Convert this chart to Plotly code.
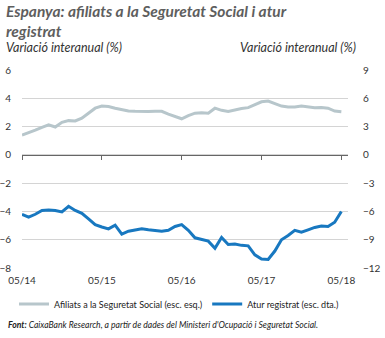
import plotly.graph_objects as go

months = list(range(49))
tick_vals = [0, 12, 24, 36, 48]
tick_text = ["05/14", "05/15", "05/16", "05/17", "05/18"]

afiliats = [1.4, 1.55, 1.75, 1.95, 2.12, 1.97, 2.3, 2.42, 2.4, 2.6,
            2.95, 3.3, 3.45, 3.42, 3.3, 3.2, 3.1, 3.08, 3.06, 3.07,
            3.08, 3.08, 2.88, 2.72, 2.55, 2.78, 2.95, 2.97, 2.95, 3.3,
            3.15, 3.07, 3.2, 3.28, 3.34, 3.55, 3.75, 3.8, 3.62, 3.45,
            3.38, 3.38, 3.45, 3.38, 3.33, 3.35, 3.3, 3.1, 3.05]

atur = [-6.3, -6.6, -6.3, -5.9, -5.86, -5.9, -6.05, -5.45, -5.9, -6.2,
        -6.8, -7.4, -7.65, -7.85, -7.45, -8.4, -8.1, -7.95, -7.85, -7.95,
        -8.0, -8.1, -8.0, -7.6, -7.4, -8.0, -8.8, -9.0, -9.15, -9.9,
        -8.75, -9.5, -9.45, -9.6, -9.65, -10.6, -11.05, -11.1, -10.2, -9.0,
        -8.55, -8.0, -8.2, -7.95, -7.7, -7.55, -7.6, -7.15, -6.0]

left_ticks = [-8, -6, -4, -2, 0, 2, 4, 6]
right_ticks = [-12, -9, -6, -3, 0, 3, 6, 9]

GRAY = "#b7c6cb"
BLUE = "#1878c0"
FONT = "Lato"

L, R, T, B = 22, 37, 70, 70
W, H = 385, 338
PW = W - L - R
PH = H - T - B


def px(x):
    return (x - L) / PW


def py(y):
    return (H - B - y) / PH


fig = go.Figure()
fig.add_trace(go.Scatter(x=months, y=afiliats, mode="lines",
                         line=dict(color=GRAY, width=3),
                         name="Afiliats a la Seguretat Social (esc. esq.)",
                         yaxis="y"))
fig.add_trace(go.Scatter(x=months, y=atur, mode="lines",
                         line=dict(color=BLUE, width=3),
                         name="Atur registrat (esc. dta.)",
                         yaxis="y2"))
fig.add_trace(go.Scatter(x=[0, 48], y=[None, None], xaxis="x2", yaxis="y",
                         showlegend=False, hoverinfo="skip"))

fig.update_layout(
    width=W, height=H,
    margin=dict(l=L, r=R, t=T, b=B, autoexpand=False),
    paper_bgcolor="white", plot_bgcolor="white",
    font=dict(family=FONT, size=10, color="#333333"),
    showlegend=True,
    legend=dict(orientation="h", x=px(14), xanchor="left", y=py(304), yanchor="middle",
                font=dict(size=9, color="#222222"),
                bgcolor="rgba(0,0,0,0)"),
    xaxis=dict(range=[0, 49], tickvals=tick_vals, ticktext=tick_text,
               showgrid=False, zeroline=False, showline=False, automargin=False,
               ticks="outside", ticklen=3, tickcolor="rgba(0,0,0,0)",
               tickfont=dict(size=10, color="#333333")),
    xaxis2=dict(range=[0, 49], tickvals=tick_vals, overlaying="x",
                anchor="free", position=8/14, side="bottom", automargin=False,
                showgrid=False, zeroline=False, showline=True,
                linecolor="#666666", linewidth=1,
                ticks="outside", ticklen=4, tickcolor="#666666",
                showticklabels=False),
    yaxis=dict(range=[-8, 6], tickvals=left_ticks, showgrid=True,
               gridcolor="#d4d4d4", gridwidth=1, zeroline=False, automargin=False,
               showline=False, ticks="outside", ticklen=8,
               tickcolor="rgba(0,0,0,0)",
               tickfont=dict(size=10, color="#333333")),
    yaxis2=dict(range=[-12, 9], tickvals=right_ticks, overlaying="y",
                side="right", showgrid=False, zeroline=False, automargin=False,
                showline=False, ticks="outside", ticklen=12,
                tickcolor="rgba(0,0,0,0)",
                tickfont=dict(size=10, color="#333333")),
)

fig.add_annotation(text="<b><i>Espanya: afiliats a la Seguretat Social i atur<br>registrat</i></b>",
                   xref="paper", yref="paper", x=px(5), y=py(1), xanchor="left", yanchor="top",
                   align="left", showarrow=False, borderpad=0,
                   font=dict(family=FONT, size=15.5, color="#5e5e5e"))
fig.add_annotation(text="<i>Variació interanual (%)</i>", xref="paper", yref="paper",
                   x=px(5), y=py(47), xanchor="left", yanchor="middle",
                   showarrow=False, borderpad=0,
                   font=dict(family=FONT, size=12.5, color="#333333"))
fig.add_annotation(text="<i>Variació interanual (%)</i>", xref="paper", yref="paper",
                   x=px(357), y=py(47), xanchor="right", yanchor="middle",
                   showarrow=False, borderpad=0,
                   font=dict(family=FONT, size=12.5, color="#333333"))
fig.add_annotation(text="<b><i>Font:</i></b><i> CaixaBank Research, a partir de dades del Ministeri d'Ocupació i Seguretat Social.</i>",
                   xref="paper", yref="paper",
                   x=px(6), y=py(325), xanchor="left", yanchor="middle",
                   showarrow=False, font=dict(family=FONT, size=8.6, color="#222222"))

fig.write_html("out.html")
